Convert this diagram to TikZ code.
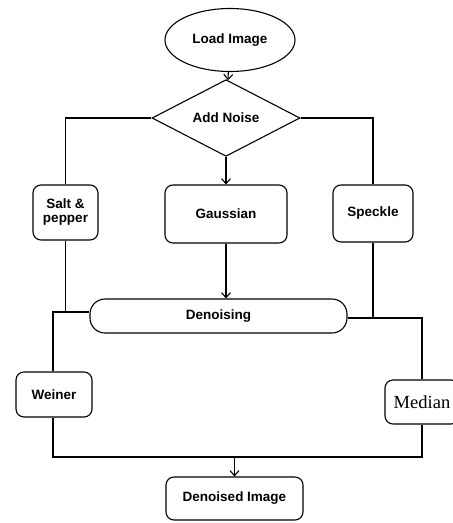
\documentclass[tikz,border=0pt]{standalone}
\usepackage{fontspec}
\setmainfont{Liberation Sans}
\newfontfamily\serifmed{Liberation Serif}
\usetikzlibrary{calc,positioning,arrows.meta,shapes.geometric}

\begin{document}
\begin{tikzpicture}[x=1pt, y=-1pt, line width=1.1pt,
    every node/.style={font=\fontsize{13.5}{15}\selectfont\bfseries, align=center},
    box/.style={draw, rectangle, rounded corners=8pt, inner sep=2pt},
    arr/.style={-{Straight Barb[length=5pt,width=9pt]}}]
    \useasboundingbox (0,0) rectangle (453,523);
            % nodes (placed at pixel positions)
            \node[draw,ellipse,minimum width=130pt,minimum height=63pt,inner sep=0pt] (load) at (230,40) {Load Image};
            \node[draw,diamond,minimum width=148pt,minimum height=56pt,inner sep=0pt] (noise) at (226,118) {Add Noise};
            \node[box,minimum width=65pt,minimum height=55pt] (salt) at (65.5,212.5) {Salt \&\\[-1pt] pepper};
            \node[box,minimum width=122pt,minimum height=58pt] (gauss) at (226,214) {Gaussian};
            \node[box,minimum width=80pt,minimum height=57pt] (speckle) at (373,213.5) {Speckle};
            \node[draw,rectangle,rounded corners=15pt,minimum width=257pt,minimum height=34pt] (denoise) at (218.5,316) {Denoising};
            \node[box,minimum width=76pt,minimum height=45pt] (weiner) at (54,394.5) {Weiner};
            \node[box,minimum width=74pt,minimum height=44pt,font=\serifmed\fontsize{18.5}{20}\selectfont] (median) at (422,402) {Median};
            \node[box,minimum width=137pt,minimum height=43pt] (out) at (234.5,498.5) {Denoised Image};

            % junction points
            \coordinate (jl) at (53,312);
            \coordinate (jr) at (422,318);
            \coordinate (bl) at (53,457);
            \coordinate (br) at (422,457);

            % connections
            \draw[arr] (load) -- (noise);
            \draw (noise.west) -| (salt.north);
            \draw (noise.east) -| (speckle.north);
            \draw[arr] (noise.south) -- (gauss.north);
            \draw[arr] (gauss.south) -- (gauss.south |- denoise.north);
            \draw (salt.south) |- (jl) -- (jl |- weiner.north);
            \draw (jl) -- (jl -| denoise.west);
            \draw (speckle.south) |- (jr) -- (median.north);
            \draw (jr -| denoise.east) -- (jr);
            \draw (bl |- weiner.south) -- (bl) -- (br) -- (median.south);
            \draw[arr] (bl -| out.north) -- (out.north);
\end{tikzpicture}
\end{document}
